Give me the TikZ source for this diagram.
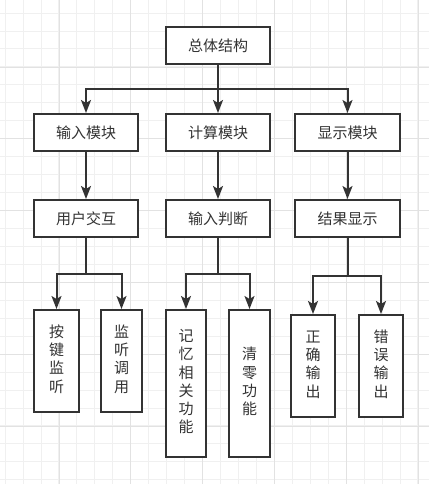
\documentclass[tikz,border=0pt]{standalone}
\usepackage{fontspec}
\setmainfont{Noto Sans CJK SC}
\usetikzlibrary{arrows.meta}
\definecolor{ink}{HTML}{333333}
\definecolor{gridminor}{HTML}{F0F0F0}
\definecolor{gridmajor}{HTML}{E2E2E2}
\tikzset{
  box/.style={draw=ink, line width=2pt, fill=white, inner sep=0pt, text=ink,
    font=\fontsize{15}{18.3}\selectfont, align=center},
  link/.style={draw=ink, line width=2pt},
  arr/.style={link, -{Stealth[length=13pt,width=10pt,inset=3pt]}},
}
\newcommand{\vtext}[1]{\begin{tabular}{@{}c@{}}#1\end{tabular}}
\begin{document}
\begin{tikzpicture}[x=1pt,y=-1pt]
\useasboundingbox (0,0) rectangle (429,484);
\fill[white] (0,0) rectangle (429,484);
% grid
\foreach \i in {0,...,23} {
  \draw[gridminor, line width=0.8pt] ({5+17.95*\i},0) -- ({5+17.95*\i},484);
}
\foreach \i in {0,...,26} {
  \draw[gridminor, line width=0.8pt] (0,{13+17.95*\i}) -- (429,{13+17.95*\i});
}
\foreach \i in {0,...,5} {
  \draw[gridmajor, line width=0.8pt] ({59+71.8*\i},0) -- ({59+71.8*\i},484);
}
\foreach \i in {-1,...,6} {
  \draw[gridmajor, line width=0.8pt] (0,{67+71.8*\i}) -- (429,{67+71.8*\i});
}
% level 1
\node[box, minimum width=104pt, minimum height=37pt] (top) at (218,45.5) {总体结构};
% level 2
\node[box, minimum width=104pt, minimum height=37pt] (m1) at (86,132.5) {输入模块};
\node[box, minimum width=104pt, minimum height=37pt] (m2) at (218,132.5) {计算模块};
\node[box, minimum width=105pt, minimum height=37pt] (m3) at (347.5,132.5) {显示模块};
% level 3
\node[box, minimum width=104pt, minimum height=37pt] (s1) at (86,218.5) {用户交互};
\node[box, minimum width=104pt, minimum height=37pt] (s2) at (218,218.5) {输入判断};
\node[box, minimum width=105pt, minimum height=37pt] (s3) at (347.5,218.5) {结果显示};
% level 4
\node[box, minimum width=45pt, minimum height=102pt] (a) at (56.5,361) {\vtext{按\\键\\监\\听}};
\node[box, minimum width=41pt, minimum height=102pt] (b) at (121.5,361) {\vtext{监\\听\\调\\用}};
\node[box, minimum width=40pt, minimum height=147pt] (c) at (186,383.5) {\vtext{记\\忆\\相\\关\\功\\能}};
\node[box, minimum width=41pt, minimum height=147pt] (d) at (249.5,383.5) {\vtext{清\\零\\功\\能}};
\node[box, minimum width=44pt, minimum height=102pt] (e) at (313,366) {\vtext{正\\确\\输\\出}};
\node[box, minimum width=44pt, minimum height=102pt] (f) at (381,366) {\vtext{错\\误\\输\\出}};
% junctions
\coordinate (j0) at (218,89);
\coordinate (j1) at (86,274);
\coordinate (j2) at (218,274);
\coordinate (j3) at (347.5,276);
% connectors
\draw[arr] (top.south) -- (j0) -| (m1.north);
\draw[arr] (top.south) -- (m2.north);
\draw[arr] (top.south) -- (j0) -| (m3.north);
\draw[arr] (m1.south) -- (s1.north);
\draw[arr] (m2.south) -- (s2.north);
\draw[arr] (m3.south) -- (s3.north);
\draw[arr] (s1.south) -- (j1) -| (a.north);
\draw[arr] (s1.south) -- (j1) -| (b.north);
\draw[arr] (s2.south) -- (j2) -| (c.north);
\draw[arr] (s2.south) -- (j2) -| (d.north);
\draw[arr] (s3.south) -- (j3) -| (e.north);
\draw[arr] (s3.south) -- (j3) -| (f.north);
\end{tikzpicture}
\end{document}
